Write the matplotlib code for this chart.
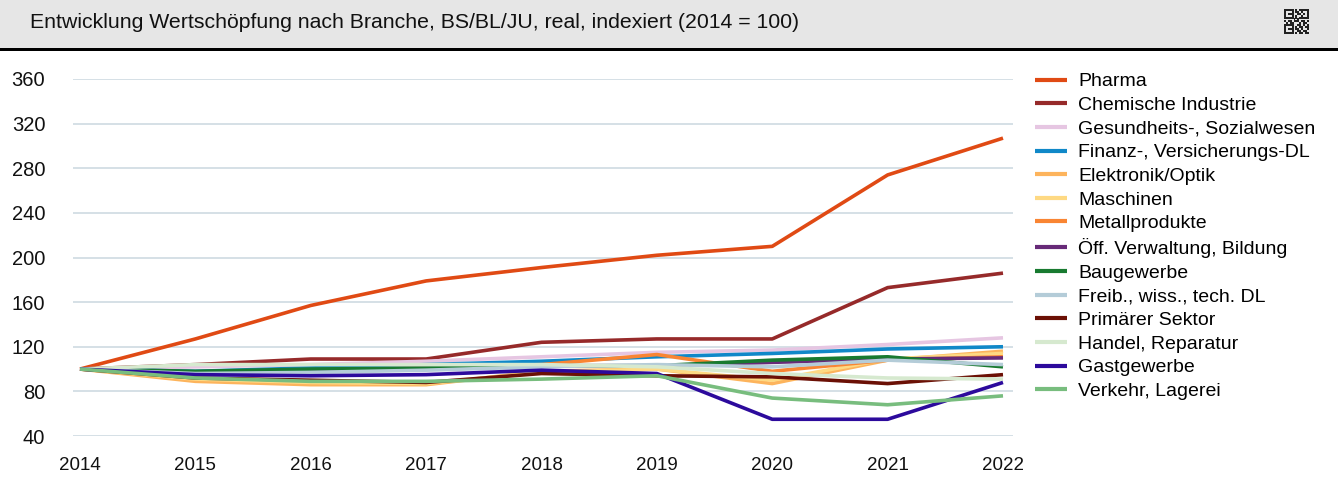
import matplotlib
matplotlib.use("Agg")
import matplotlib.pyplot as plt
from matplotlib.patches import Rectangle

plt.rcParams['font.family'] = ['Liberation Sans', 'DejaVu Sans']

years = [2014, 2015, 2016, 2017, 2018, 2019, 2020, 2021, 2022]

labels = ["Pharma", "Chemische Industrie", "Gesundheits-, Sozialwesen",
          "Finanz-, Versicherungs-DL", "Elektronik/Optik", "Maschinen",
          "Metallprodukte", "Öff. Verwaltung, Bildung", "Baugewerbe",
          "Freib., wiss., tech. DL", "Primärer Sektor", "Handel, Reparatur",
          "Gastgewerbe", "Verkehr, Lagerei"]

pharma      = [100, 127, 157, 179, 191, 202, 210, 274, 307]
chemie      = [100, 104, 109, 109, 124, 127, 127, 173, 186]
gesundheit  = [100, 102, 104, 107, 111, 115, 117, 122, 128]
finanz      = [100, 98, 101, 104, 107, 111, 114, 118, 120]
elektronik  = [100, 89, 86, 86, 98, 100, 87, 108, 116]
maschinen   = [100, 91, 88, 87, 97, 100, 90, 109, 114]
metall      = [100, 97, 99, 101, 104, 113, 98, 108, 111]
verwaltung  = [100, 97, 98, 101, 103, 103, 106, 109, 110]
bau         = [100, 98, 100, 101, 103, 103, 108, 111, 102]
freib       = [100, 96, 97, 99, 102, 104, 102, 108, 104]
primaer     = [100, 92, 90, 88, 96, 94, 93, 87, 95]
handel      = [100, 104, 104, 104, 104, 102, 96, 92, 91]
gast        = [100, 95, 94, 95, 99, 96, 55, 55, 88]
verkehr     = [100, 92, 89, 89, 91, 94, 74, 68, 76]

series = [pharma, chemie, gesundheit, finanz, elektronik, maschinen, metall,
          verwaltung, bau, freib, primaer, handel, gast, verkehr]
colors = ["#e04a14", "#962a2a", "#e6c6e2", "#1088c8", "#fdb45c", "#fed983",
          "#f98533", "#672a78", "#187a30", "#b4ccd8", "#6b1005", "#d6e9cf",
          "#2c0a9c", "#78bd7e"]

yticks = [40, 80, 120, 160, 200, 240, 280, 320, 360]
title = "Entwicklung Wertschöpfung nach Branche, BS/BL/JU, real, indexiert (2014 = 100)"

W, H = 1338, 479
fig = plt.figure(figsize=(W / 100, H / 100), dpi=100)

# title bar
fig.patches.append(Rectangle((0, 1 - 48 / H), 1, 48 / H, transform=fig.transFigure,
                             facecolor="#e6e6e6", edgecolor="none", zorder=0))
fig.patches.append(Rectangle((0, 1 - 51 / H), 1, 3 / H, transform=fig.transFigure,
                             facecolor="#000000", edgecolor="none", zorder=1))
fig.text(30 / W, 1 - 22 / H, title, fontsize=15.3, va="center", ha="left", color="#111111")

# small QR-like icon
qr = [
    "1111101011111",
    "1000101101001",
    "1011100110101",
    "1000101001001",
    "1111101011111",
    "0000010100000",
    "1011011101101",
    "0101100010110",
    "1111100110101",
    "1000101011011",
    "1011101101001",
    "1000100110110",
    "1111101011011",
]
qx0, qy0, cs = 1284, 9, 1.9
for r, row in enumerate(qr):
    for c, ch in enumerate(row):
        if ch == "1":
            fig.patches.append(Rectangle(((qx0 + c * cs) / W, 1 - (qy0 + (r + 1) * cs) / H),
                                         cs / W, cs / H, transform=fig.transFigure,
                                         facecolor="#222222", edgecolor="none", zorder=2))

ax = fig.add_axes([73 / W, 1 - 436 / H, (1013 - 73) / W, (436 - 79) / H])
for s, c, lab in zip(series, colors, labels):
    ax.plot(years, s, color=c, lw=2.6, label=lab, solid_capstyle="butt")

ax.set_xlim(2014 - 7 / 115.4, 2022 + 10 / 115.4)
ax.set_ylim(40, 360)
ax.set_yticks(yticks)
ax.set_xticks(years)
ax.grid(axis="y", color="#d5e0e6", lw=1.4)
ax.set_axisbelow(True)
for sp in ax.spines.values():
    sp.set_visible(False)
ax.tick_params(axis="both", length=0, labelsize=13.5, colors="#111111")
ax.tick_params(axis="y", pad=20, labelsize=14.5)
ax.tick_params(axis="x", pad=15)

leg = fig.legend(loc="upper left", bbox_to_anchor=(1027 / W, 1 - 65 / H),
                 frameon=False, fontsize=14, handlelength=1.65, handletextpad=0.57,
                 labelspacing=0.31, borderaxespad=0)
for line in leg.get_lines():
    line.set_linewidth(3)

fig.savefig("out.png", dpi=100)
